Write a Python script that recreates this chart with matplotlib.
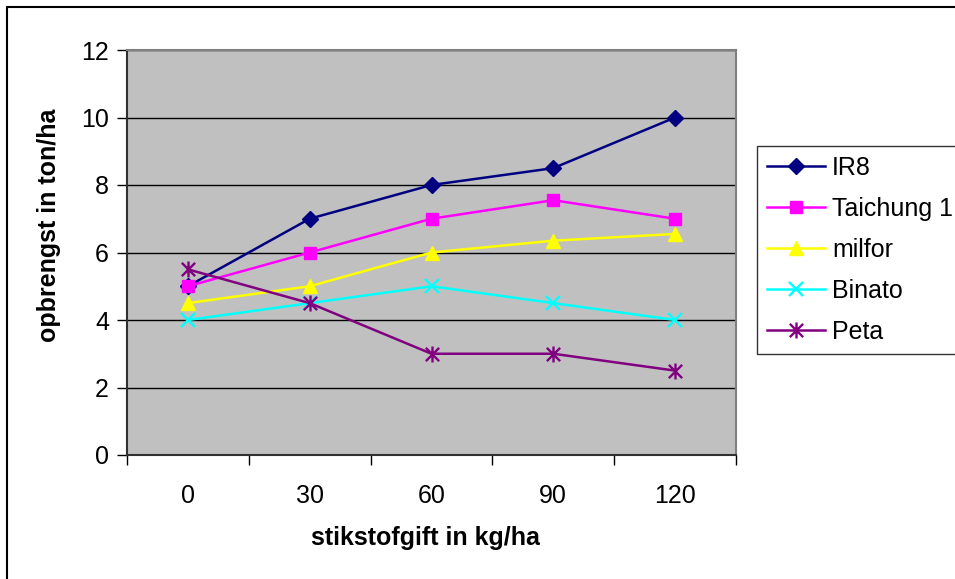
import numpy as np
import matplotlib.pyplot as plt
from matplotlib.patches import Rectangle
from matplotlib.path import Path

plt.rcParams['font.family'] = ['Liberation Sans', 'DejaVu Sans']

# Daten
doses = ['0', '30', '60', '90', '120']
ir8 = [5, 7, 8, 8.5, 10]
taichung = [5, 6, 7, 7.55, 7]
milfor = [4.5, 5, 6, 6.35, 6.55]
binato = [4, 4.5, 5, 4.5, 4]
peta = [5.5, 4.5, 3, 3, 2.5]

x = np.arange(len(doses))

# Excel-Stern: X mit senkrechtem Strich
star = Path([(-1, -1), (1, 1), (-1, 1), (1, -1), (0, -1.2), (0, 1.2)],
            [Path.MOVETO, Path.LINETO, Path.MOVETO, Path.LINETO, Path.MOVETO, Path.LINETO])

fig = plt.figure(figsize=(9.55, 5.79), dpi=100)
ax = fig.add_axes([127/955, 124/579, 609/955, 405/579])
ax.set_facecolor('#C0C0C0')

lw = 1.8
ax.plot(x, ir8, color='#000080', marker='D', ms=8.5, lw=lw, label='IR8', zorder=3)
ax.plot(x, taichung, color='#FF00FF', marker='s', ms=8.5, lw=lw, label='Taichung 1', zorder=3)
ax.plot(x, milfor, color='#FFFF00', marker='^', ms=10, lw=lw, label='milfor', zorder=3)
ax.plot(x, binato, color='#00FFFF', marker='x', ms=9.5, mew=1.7, lw=lw, label='Binato', zorder=3)
ax.plot(x, peta, color='#800080', marker=star, ms=11.5, mew=1.7, lw=lw, label='Peta', zorder=3)

ax.set_xlim(-0.5, 4.5)
ax.set_ylim(0, 12)
ax.set_yticks(np.arange(0, 13, 2))
ax.yaxis.grid(True, color='black', lw=1)
ax.set_axisbelow(True)

# Kategorien-Achse: Striche zwischen den Kategorien, Beschriftung in der Mitte
ax.set_xticks(np.arange(-0.5, 5, 1))
ax.set_xticklabels([])
ax.set_xticks(x, minor=True)
ax.set_xticklabels(doses, minor=True)
ax.tick_params(axis='x', which='minor', length=0, pad=21, labelsize=18)
ax.tick_params(axis='x', which='major', length=7, width=1, direction='out')
ax.tick_params(axis='y', length=7, width=1, direction='out', labelsize=18, pad=6)

for s in ['top', 'right']:
    ax.spines[s].set_color('#808080')
    ax.spines[s].set_linewidth(1.5)
for s in ['left', 'bottom']:
    ax.spines[s].set_color('#303030')
    ax.spines[s].set_linewidth(1.5)

ax.set_xlabel('stikstofgift in kg/ha', fontsize=18, fontweight='bold')
ax.set_ylabel('opbrengst in ton/ha', fontsize=18, fontweight='bold')
ax.xaxis.set_label_coords(0.49, -0.175)
ax.yaxis.set_label_coords(-0.108, 0.568)

leg = ax.legend(loc='upper left', bbox_to_anchor=(757/955, 1 - 146/579),
                bbox_transform=fig.transFigure, borderaxespad=0,
                fontsize=18, frameon=True, fancybox=False, edgecolor='black',
                handlelength=2.3, handletextpad=0.3, labelspacing=0.68,
                borderpad=0.4)
leg.get_frame().set_linewidth(1)

# Rahmen um das Diagramm
fig.patches.append(Rectangle((7/955, -0.1), 1.1, 1 - 7/579 + 0.1, transform=fig.transFigure,
                             fill=False, edgecolor='black', lw=1.5))

fig.savefig('out.png', dpi=100)
